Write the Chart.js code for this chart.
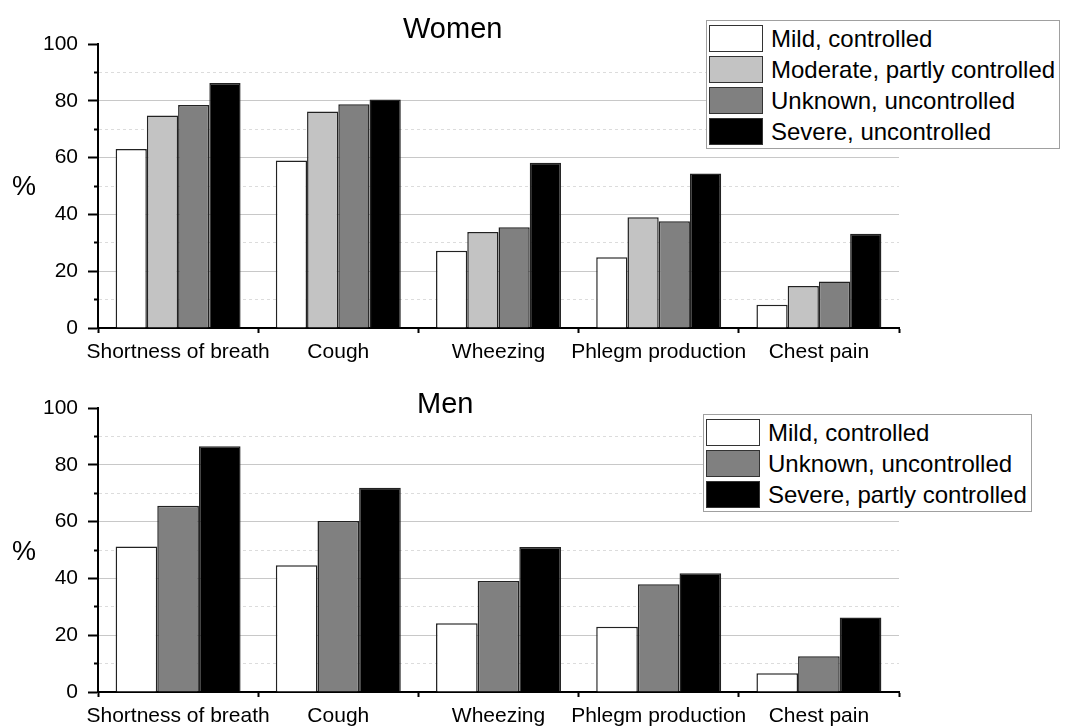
<!DOCTYPE html>
<html>
<head>
<meta charset="utf-8">
<script src="https://cdn.jsdelivr.net/npm/chart.js@4/dist/chart.umd.min.js"></script>
<style>
  body { margin: 0; background: #fff; font-family: "Liberation Sans", Arial, sans-serif; }
  #page { position: relative; width: 1082px; height: 726px; }
  .panel { position: absolute; left: 0; width: 1082px; }
  .title { position: absolute; font-size: 29px; line-height: 1; color: #000; white-space: nowrap; }
  .ylab { position: absolute; left: 12px; font-size: 27px; line-height: 1; color: #000; }
  .legend { position: absolute; border: 1px solid #a0a0a0; background: #fff; padding: 2px 4px 1px 2px; }
  .legend div { display: flex; align-items: center; height: 31px; font-size: 24px; color: #000; white-space: nowrap; }
  .legend span.sw { display: inline-block; width: 52px; height: 25px; border: 1px solid #333; margin-right: 8px; }
</style>
</head>
<body>
<div id="page">
  <div class="panel" id="panelW" style="top:0;height:364px">
    <canvas id="women"></canvas>
    <div class="title" style="left:403px;top:14px">Women</div>
    <div class="ylab" style="top:173px">%</div>
    <div class="legend" id="legendW" style="left:706px;top:20px"></div>
  </div>
  <div class="panel" id="panelM" style="top:364px;height:362px">
    <canvas id="men"></canvas>
    <div class="title" style="left:417px;top:25px">Men</div>
    <div class="ylab" style="top:174px">%</div>
    <div class="legend" id="legendM" style="left:703px;top:50px"></div>
  </div>
</div>
<script>
// Symptoms by asthma severity / control, women and men
const symptoms = ["Shortness of breath", "Cough", "Wheezing", "Phlegm production", "Chest pain"];
const yTicks = [0, 20, 40, 60, 80, 100];

const womenGroups = ["Mild, controlled", "Moderate, partly controlled", "Unknown, uncontrolled", "Severe, uncontrolled"];
const womenMild = [63.0, 59.0, 27.2, 24.9, 8.2];
const womenModerate = [74.8, 76.2, 33.8, 39.0, 14.8];
const womenUnknown = [78.5, 78.8, 35.5, 37.6, 16.4];
const womenSevere = [86.3, 80.5, 58.2, 54.4, 33.2];

const menGroups = ["Mild, controlled", "Unknown, uncontrolled", "Severe, partly controlled"];
const menMild = [51.2, 44.6, 24.2, 23.0, 6.6];
const menUnknown = [65.6, 60.2, 39.1, 37.9, 12.6];
const menSevere = [86.5, 71.9, 51.1, 41.8, 26.2];

const WHITE = "#ffffff", LIGHT = "#c3c3c3", DARK = "#808080", BLACK = "#000000";
const FONT = "'Liberation Sans', Arial, sans-serif";

function makeChart(id, legendId, panelHeight, labels, series, colors) {
  const datasets = series.map((data, i) => ({
    label: labels[i],
    data: data,
    backgroundColor: colors[i],
    borderColor: "#222",
    borderWidth: 1.5,
    borderSkipped: "bottom",
    categoryPercentage: 0.78,
    barPercentage: 1.0
  }));

  const chart = new Chart(document.getElementById(id), {
    type: "bar",
    data: { labels: symptoms, datasets: datasets },
    options: {
      responsive: true,
      maintainAspectRatio: false,
      animation: false,
      layout: { padding: { left: 0, right: 183, top: 44, bottom: 0 } },
      plugins: { legend: { display: false }, title: { display: false }, tooltip: { enabled: false } },
      scales: {
        x: {
          afterFit: s => { s.height = panelHeight - 328; },
          grid: { display: true, offset: true, drawOnChartArea: false, drawTicks: true,
                  tickLength: 5, tickWidth: 2, tickColor: "#000" },
          border: { display: true, color: "#000", width: 2 },
          ticks: { color: "#000", font: { family: FONT, size: 21 }, padding: 7,
                   maxRotation: 0, autoSkip: false }
        },
        y: {
          min: 0, max: 100,
          afterFit: s => { s.width = 98; },
          afterBuildTicks: s => {
            const t = [];
            for (let v = 0; v <= 100; v += 10) t.push({ value: v });
            s.ticks = t;
          },
          grid: {
            color: c => {
              const v = c.tick ? c.tick.value : 0;
              if (v === 0 || v === 100) return "rgba(0,0,0,0)";
              return yTicks.includes(v) ? "#c8c8c8" : "#dcdcdc";
            },
            lineWidth: 1,
            tickLength: 10, tickWidth: 2, tickColor: "#000",
            // minor ticks: only the short piece next to the axis
            tickBorderDash: c => (c.tick && !yTicks.includes(c.tick.value)) ? [0, 6, 5, 40] : []
          },
          border: {
            display: true, color: "#000", width: 2,
            dash: c => (c.tick && !yTicks.includes(c.tick.value)) ? [3, 3] : []
          },
          ticks: {
            color: "#000", font: { family: FONT, size: 21 }, padding: 10,
            callback: v => yTicks.includes(v) ? v : ""
          }
        }
      }
    }
  });

  // HTML legend built from the datasets
  const box = document.getElementById(legendId);
  chart.data.datasets.forEach(ds => {
    const row = document.createElement("div");
    const sw = document.createElement("span");
    sw.className = "sw";
    sw.style.background = ds.backgroundColor;
    row.appendChild(sw);
    row.appendChild(document.createTextNode(ds.label));
    box.appendChild(row);
  });
  return chart;
}

makeChart("women", "legendW", 364, womenGroups,
  [womenMild, womenModerate, womenUnknown, womenSevere], [WHITE, LIGHT, DARK, BLACK]);
makeChart("men", "legendM", 362, menGroups,
  [menMild, menUnknown, menSevere], [WHITE, DARK, BLACK]);
</script>
</body>
</html>
